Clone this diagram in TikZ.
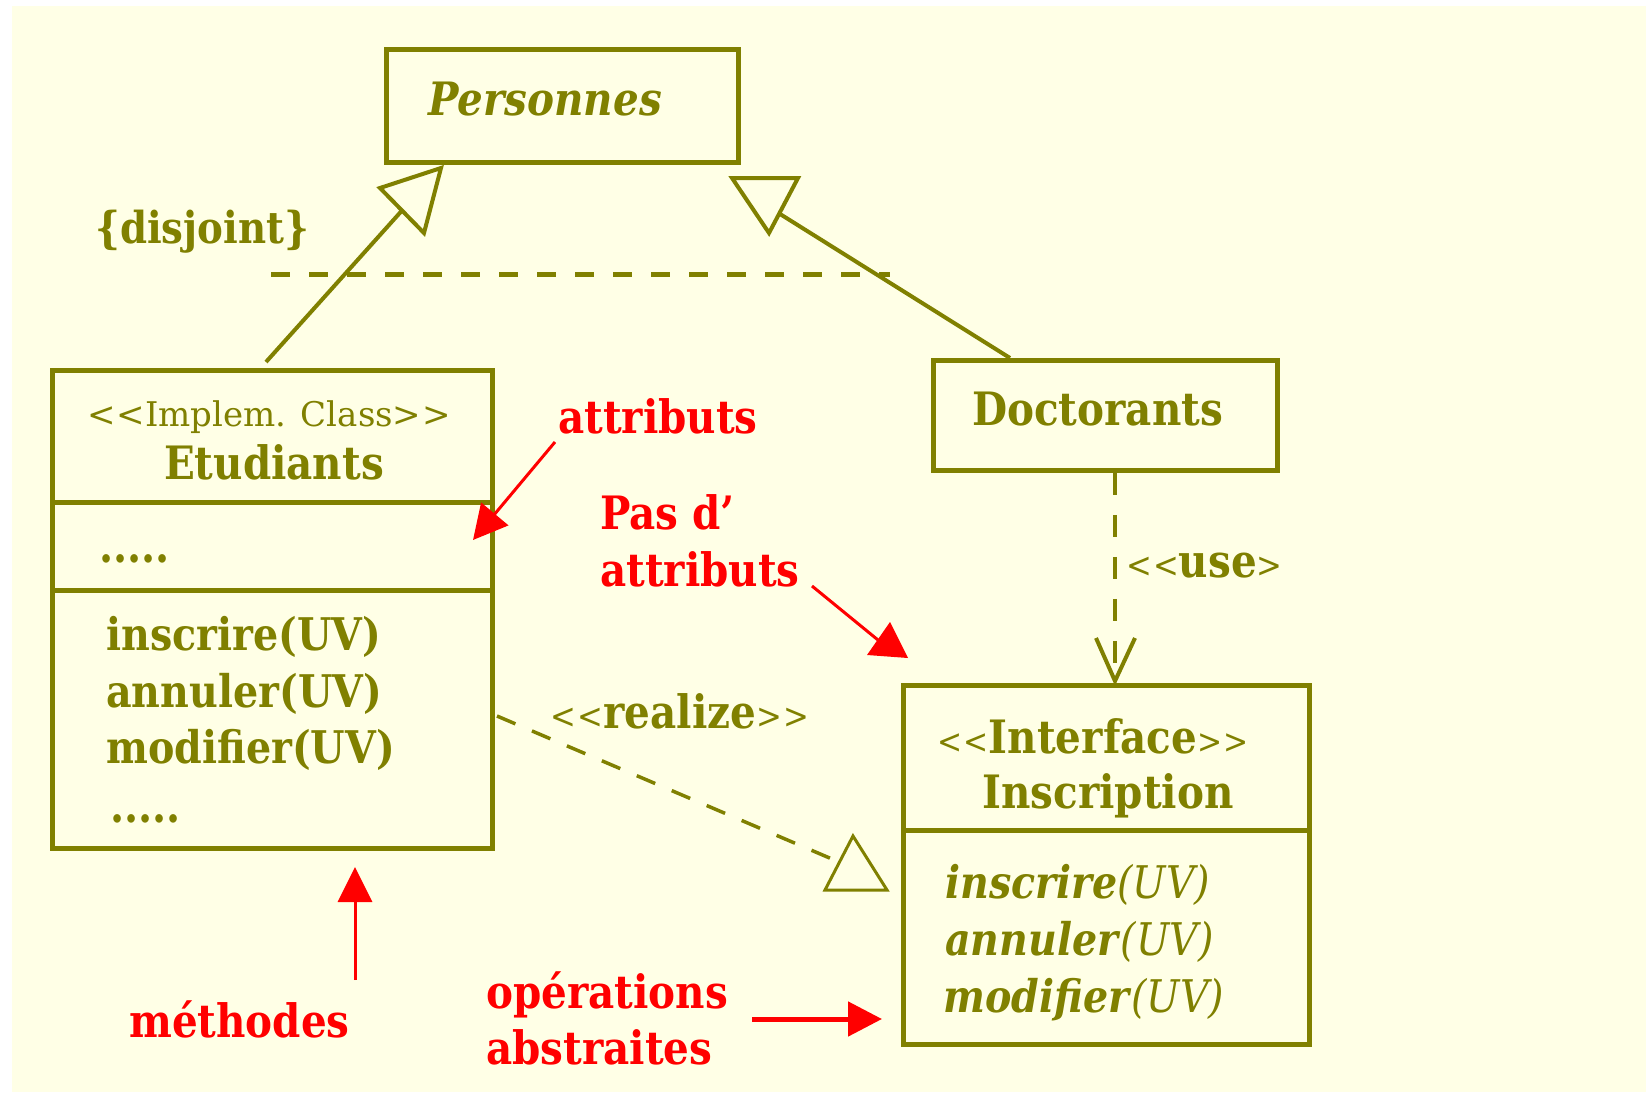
\documentclass[tikz,border=0pt]{standalone}
\usepackage{fontspec}
\setmainfont{DejaVu Serif}[FakeStretch=0.88]
\newfontfamily\plainserif{DejaVu Serif}
\usetikzlibrary{arrows.meta,calc}
\definecolor{umlolive}{RGB}{128,128,0}
\definecolor{paper}{RGB}{255,255,230}
\definecolor{notered}{RGB}{255,0,0}
% small stereotype brackets
\newcommand\stl[1][32]{{\mdseries\upshape\fontsize{#1}{#1}\selectfont<\kern1pt<}}
\newcommand\str[1][32]{{\mdseries\upshape\fontsize{#1}{#1}\selectfont>\kern1pt>}}
\newcommand\strone[1][32]{{\mdseries\upshape\fontsize{#1}{#1}\selectfont>}}
\begin{document}
\begin{tikzpicture}[x=1pt,y=-1pt,
  box/.style={draw=umlolive, line width=4.5pt, inner sep=0pt},
  divider/.style={draw=umlolive, line width=4.5pt},
  txt/.style={inner sep=0pt, text=umlolive, font=\fontsize{46}{50}\selectfont\bfseries},
  optxt/.style={inner sep=0pt, text=umlolive, font=\fontsize{45}{50}\selectfont\bfseries},
  stereo/.style={inner sep=0pt, text=umlolive, font=\plainserif\fontsize{34}{38}\selectfont},
  notetxt/.style={inner sep=0pt, text=notered, font=\fontsize{46}{50}\selectfont\bfseries},
  genline/.style={draw=umlolive, line width=4pt},
  gentri/.style={draw=umlolive, line width=4pt, line join=miter},
  usedash/.style={draw=umlolive, line width=4pt, dash pattern=on 22pt off 20pt},
  realdash/.style={draw=umlolive, line width=3.5pt, dash pattern=on 20pt off 18pt},
  disjdash/.style={draw=umlolive, line width=5pt, dash pattern=on 19pt off 19pt},
  notearrow/.style={draw=notered, fill=notered, line width=3pt}
]
\useasboundingbox (0,0) rectangle (1646,1092);
\fill[white] (0,0) rectangle (1646,1092);
\fill[paper] (12,6) rectangle (1646,1092);

% ---------- classes ----------
\node[box, minimum width=352, minimum height=113] (pers) at (562.5,106) {};
\node[txt, anchor=base west] (persname) at (428,115) {\textit{Personnes}};

\node[box, minimum width=440, minimum height=478] (etu) at (272.5,609.5) {};
\draw[divider] (etu.west |- 0,502.5) -- (etu.east |- 0,502.5);
\draw[divider] (etu.west |- 0,590.5) -- (etu.east |- 0,590.5);
\node[stereo, anchor=base] (etust) at (269,426) {\stl[34]Implem. Class\str[34]};
\node[txt, anchor=base] (etuname) at (274,479) {Etudiants};
\node[txt, anchor=base west] (etuattr) at (99,562) {.....};
\node[optxt, anchor=base west] (etum1) at (106,650) {inscrire(UV)};
\node[optxt, anchor=base west] (etum2) at (106,707) {annuler(UV)};
\node[optxt, anchor=base west] (etum3) at (106,763) {modifier(UV)};
\node[txt, anchor=base west] (etum4) at (110,822) {.....};

\node[box, minimum width=344, minimum height=110] (doc) at (1105.5,415.5) {};
\node[txt, anchor=base west] (docname) at (972,425) {Doctorants};

\node[box, minimum width=406, minimum height=359] (insc) at (1106.5,865) {};
\draw[divider] (insc.west |- 0,830.5) -- (insc.east |- 0,830.5);
\node[txt, anchor=base] (inscst) at (1093,753) {\stl[34]Interface\str[34]};
\node[txt, anchor=base] (inscname) at (1108,808) {Inscription};
\node[optxt, anchor=base west] (inscm1) at (945,898) {\textit{inscrire}{\mdseries\textit{(UV)}}};
\node[optxt, anchor=base west] (inscm2) at (945,955) {\textit{annuler}{\mdseries\textit{(UV)}}};
\node[optxt, anchor=base west] (inscm3) at (943,1012) {\textit{modifier}{\mdseries\textit{(UV)}}};

% ---------- generalisations ----------
\coordinate (g1tip) at (441,168);
\coordinate (g1a) at (380,188);
\coordinate (g1b) at (424,233);
\coordinate (g1foot) at (266,362);
\draw[genline] (g1foot) -- ($(g1a)!0.5!(g1b)$);
\draw[gentri] (g1tip) -- (g1a) -- (g1b) -- cycle;

\coordinate (g2a) at (732,178);
\coordinate (g2b) at (798,178);
\coordinate (g2tip) at (769,233);
\coordinate (g2foot) at (1010,358);
\coordinate (g2end) at (780,214);
\draw[genline] (g2foot) -- (g2end);
\draw[gentri] (g2a) -- (g2b) -- (g2tip) -- cycle;

% {disjoint} constraint
\coordinate (dj1) at (271,274.5);
\coordinate (dj2) at (890,274.5);
\draw[disjdash] (dj1) -- (dj2);
\node[txt, font=\fontsize{44}{48}\selectfont\bfseries, anchor=base west] (disj) at (95,243) {\{disjoint\}};

% ---------- use dependency ----------
\coordinate (usetip) at (1115,681);
\draw[usedash] (doc.south -| usetip) -- (usetip);
\draw[genline] (1096,638) -- (usetip) -- (1135,638);
\node[txt, anchor=base west] (uselbl) at (1126,577) {\stl[35]use\strone[35]};

% ---------- realization ----------
\coordinate (rs) at (497,716);
\coordinate (re) at (839,862);
\draw[realdash] (rs) -- (re);
\coordinate (rtip) at (853,836);
\coordinate (ra) at (825,890);
\coordinate (rb) at (887,890);
\draw[draw=umlolive, line width=3pt, line join=miter] (rtip) -- (ra) -- (rb) -- cycle;
\node[txt, anchor=base] (reallbl) at (680,728) {\stl[35]realize\str[35]};

% ---------- annotations ----------
\node[notetxt, anchor=base west] (n1) at (558,433) {attributs};
\coordinate (n1s) at (555,442);
\coordinate (n1e) at (473,540);
\draw[notearrow, -{Triangle[length=34pt,width=35pt]}] (n1s) -- (n1e);

\node[notetxt, anchor=base west] (n2a) at (600,529) {Pas d'};
\node[notetxt, anchor=base west] (n2b) at (600,586) {attributs};
\coordinate (n2s) at (812,586);
\coordinate (n2e) at (878,640);
\draw[notearrow] (n2s) -- (n2e);
\fill[notered] (867,655) -- (908,658) -- (890,622) -- cycle;

\node[notetxt, anchor=base west] (n3) at (129,1037) {méthodes};
\coordinate (n3s) at (355,980);
\coordinate (n3e) at (355,867);
\draw[notearrow, -{Triangle[length=35pt,width=34pt]}] (n3s) -- (n3e);

\node[notetxt, anchor=base west] (n4a) at (486,1008) {opérations};
\node[notetxt, anchor=base west] (n4b) at (486,1064) {abstraites};
\coordinate (n4s) at (752,1019);
\coordinate (n4e) at (882,1019);
\draw[notearrow, line width=5pt, -{Triangle[length=34pt,width=34pt]}] (n4s) -- (n4e);
\end{tikzpicture}
\end{document}
